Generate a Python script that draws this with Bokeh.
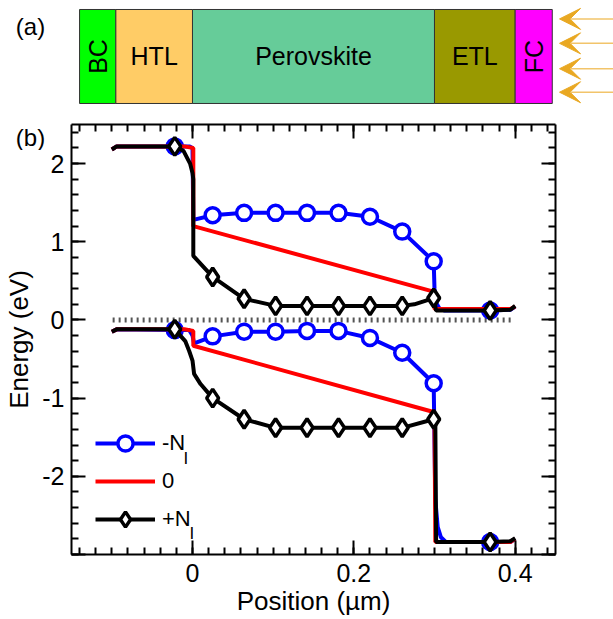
import numpy as np
from bokeh.plotting import figure
from bokeh.models import (Range1d, LinearAxis, SingleIntervalTicker, Legend, LegendItem,
                          Label, Arrow, VeeHead, ColumnDataSource, CustomJSTickFormatter)
from bokeh.layouts import column
from bokeh.core.properties import value
from bokeh.embed import file_html
from bokeh.resources import INLINE

FONT = "Liberation Sans"

# ---------------- panel (a): device stack ----------------
layer_names = ["BC", "HTL", "Perovskite", "ETL", "FC"]
layer_edges = [-0.140, -0.095, 0.000, 0.300, 0.400, 0.446]   # um
layer_colors = ["#00FF00", "#FFCC66", "#66CC99", "#999900", "#FF00FF"]
layer_text_angle = [np.pi / 2, 0, 0, 0, np.pi / 2]
light_arrow_y = [0.90, 0.64, 0.37, 0.12]

# ---------------- panel (b): band diagram ----------------
fermi_x = [-0.099, 0.396]
fermi_y = [0.0, 0.0]

# -N_I (blue)
neg_cb_x = [-0.100, -0.094, -0.022, -0.004, 0.000, 0.001, 0.025, 0.064, 0.103, 0.142, 0.181,
            0.220, 0.260, 0.299, 0.300, 0.302, 0.306, 0.312, 0.369, 0.394, 0.400]
neg_cb_y = [2.18, 2.22, 2.22, 2.22, 2.20, 1.28, 1.34, 1.37, 1.37, 1.37, 1.37,
            1.32, 1.13, 0.75, 0.40, 0.22, 0.15, 0.12, 0.12, 0.13, 0.17]
neg_vb_x = [-0.100, -0.094, -0.022, -0.004, 0.000, 0.002, 0.025, 0.064, 0.103, 0.142, 0.181,
            0.220, 0.260, 0.299, 0.301, 0.304, 0.308, 0.314, 0.369, 0.394, 0.400]
neg_vb_y = [-0.15, -0.12, -0.13, -0.13, -0.20, -0.30, -0.21, -0.15, -0.15, -0.14, -0.14,
            -0.23, -0.42, -0.81, -2.30, -2.65, -2.78, -2.84, -2.84, -2.84, -2.80]
neg_mk_x = [-0.022, 0.025, 0.064, 0.103, 0.142, 0.181, 0.220, 0.260, 0.299, 0.369]
neg_mk_cb = [2.22, 1.34, 1.37, 1.37, 1.37, 1.37, 1.32, 1.13, 0.75, 0.12]
neg_mk_vb = [-0.13, -0.21, -0.15, -0.15, -0.14, -0.14, -0.23, -0.42, -0.81, -2.84]

# 0 (red)
zero_cb_x = [-0.100, -0.094, -0.010, 0.001, 0.001, 0.300, 0.300, 0.394, 0.400]
zero_cb_y = [2.18, 2.22, 2.22, 2.20, 1.20, 0.36, 0.14, 0.14, 0.17]
zero_vb_x = [-0.100, -0.094, -0.010, 0.001, 0.001, 0.300, 0.301, 0.394, 0.400]
zero_vb_y = [-0.15, -0.12, -0.12, -0.14, -0.33, -1.18, -2.84, -2.84, -2.80]

# +N_I (black)
pos_cb_x = [-0.100, -0.094, -0.022, -0.011, -0.003, 0.000, 0.001, 0.001, 0.025, 0.064, 0.103,
            0.142, 0.181, 0.220, 0.260, 0.275, 0.299, 0.302, 0.369, 0.394, 0.400]
pos_cb_y = [2.18, 2.22, 2.22, 2.16, 2.00, 1.88, 1.80, 0.82, 0.55, 0.27, 0.18,
            0.18, 0.18, 0.18, 0.18, 0.20, 0.28, 0.12, 0.12, 0.13, 0.18]
pos_vb_x = [-0.100, -0.094, -0.022, -0.009, -0.004, 0.000, 0.002, 0.010, 0.025, 0.064, 0.103,
            0.142, 0.181, 0.220, 0.260, 0.299, 0.301, 0.302, 0.369, 0.394, 0.400]
pos_vb_y = [-0.15, -0.12, -0.12, -0.27, -0.40, -0.52, -0.69, -0.82, -1.00, -1.27, -1.38,
            -1.38, -1.38, -1.38, -1.38, -1.27, -1.27, -2.84, -2.84, -2.83, -2.79]
pos_mk_x = [-0.022, 0.025, 0.064, 0.103, 0.142, 0.181, 0.220, 0.260, 0.299, 0.369]
pos_mk_cb = [2.22, 0.55, 0.27, 0.18, 0.18, 0.18, 0.18, 0.18, 0.28, 0.12]
pos_mk_vb = [-0.12, -1.00, -1.27, -1.38, -1.38, -1.38, -1.38, -1.38, -1.27, -2.84]

x_ticks_interval = 0.2
y_ticks_interval = 1.0

OVERLAP = 40  # px by which panel (b) slides up under the bottom of panel (a)'s canvas

# ======================= panel (a) =======================
pa = figure(width=613, height=110 + OVERLAP, output_backend="svg", toolbar_location=None,
            x_range=Range1d(-0.2380, 0.5219), y_range=Range1d(-0.5, 1.0957),
            x_axis_type=None, y_axis_type=None, frame_align=False,
            min_border_left=0, min_border_right=0, min_border_top=0, min_border_bottom=0)
pa.outline_line_color = None
pa.xgrid.visible = False
pa.ygrid.visible = False

src_a = ColumnDataSource(dict(
    left=layer_edges[:-1], right=layer_edges[1:],
    xc=[(a + b) / 2 for a, b in zip(layer_edges[:-1], layer_edges[1:])],
    name=layer_names, color=layer_colors, ang=layer_text_angle))
pa.quad(left="left", right="right", bottom=0, top=1, fill_color="color",
        line_color="#333333", line_width=1, source=src_a)
pa.text(x="xc", y=0.5, text="name", angle="ang", source=src_a,
        text_font=value(FONT), text_font_size="25px", text_color="black",
        text_align="center", text_baseline="middle")

for yy in light_arrow_y:
    pa.add_layout(Arrow(x_start=0.53, y_start=yy, x_end=0.455, y_end=yy,
                        line_color="#F2C46A", line_width=1.5,
                        end=VeeHead(size=21, fill_color="#E9A822", line_color="#E9A822", line_width=1)))

pa.add_layout(Label(x=30, y=150 - 26, x_units="screen", y_units="screen", text="(a)",
                    text_font=FONT, text_font_size="24px", text_align="center",
                    text_baseline="middle", text_color="black"))
pa.add_layout(Label(x=30, y=150 - 137, x_units="screen", y_units="screen", text="(b)",
                    text_font=FONT, text_font_size="24px", text_align="center",
                    text_baseline="middle", text_color="black"))

# ======================= panel (b) =======================
p = figure(width=613, height=509, output_backend="svg", toolbar_location=None,
           x_range=Range1d(-0.15, 0.45), y_range=Range1d(-3.0, 2.5), frame_align=False,
           min_border_left=71, min_border_right=58, min_border_top=14, min_border_bottom=65)
p.margin = (-OVERLAP, 0, 0, 0)
p.border_fill_alpha = 0
p.xgrid.visible = False
p.ygrid.visible = False
p.outline_line_color = None

bottom_ax = p.below[0]
left_ax = p.left[0]
bottom_ax.ticker = SingleIntervalTicker(interval=x_ticks_interval, num_minor_ticks=10)
left_ax.ticker = SingleIntervalTicker(interval=y_ticks_interval, num_minor_ticks=5)
bottom_ax.formatter = CustomJSTickFormatter(code="return (Math.round(tick*10)/10).toString();")
left_ax.formatter = CustomJSTickFormatter(
    code="return tick < -2.5 ? '' : Math.round(tick).toString();")

top_ax = LinearAxis(ticker=SingleIntervalTicker(interval=x_ticks_interval, num_minor_ticks=10),
                    formatter=CustomJSTickFormatter(code="return '';"))
right_ax = LinearAxis(ticker=SingleIntervalTicker(interval=y_ticks_interval, num_minor_ticks=5),
                      formatter=CustomJSTickFormatter(code="return '';"))
p.add_layout(top_ax, "above")
p.add_layout(right_ax, "right")

for ax in [bottom_ax, left_ax, top_ax, right_ax]:
    ax.axis_line_width = 2
    ax.axis_line_color = "black"
    ax.major_tick_in = 14
    ax.major_tick_out = 0
    ax.minor_tick_in = 7
    ax.minor_tick_out = 0
    ax.major_tick_line_width = 2
    ax.minor_tick_line_width = 2
    ax.major_tick_line_color = "black"
    ax.minor_tick_line_color = "black"
    ax.major_label_text_font = FONT
    ax.major_label_text_font_size = "25px"
    ax.major_label_text_color = "black"
    ax.axis_label_text_font = FONT
    ax.axis_label_text_font_size = "26px"
    ax.axis_label_text_font_style = "normal"
    ax.axis_label_text_color = "black"

for ax in [top_ax, right_ax]:
    ax.major_label_standoff = 0

bottom_ax.axis_label = "Position (µm)"
left_ax.axis_label = "Energy (eV)"
bottom_ax.major_label_standoff = 9
bottom_ax.axis_label_standoff = 1
left_ax.major_label_standoff = 7
left_ax.axis_label_standoff = 5

# Fermi level
p.line(fermi_x, fermi_y, line_color="#555555", line_width=5, line_dash="2 4")

def join(x1, y1, x2, y2):
    return list(x1) + [np.nan] + list(x2), list(y1) + [np.nan] + list(y2)

nx, ny = join(neg_cb_x, neg_cb_y, neg_vb_x, neg_vb_y)
zx, zy = join(zero_cb_x, zero_cb_y, zero_vb_x, zero_vb_y)
px_, py_ = join(pos_cb_x, pos_cb_y, pos_vb_x, pos_vb_y)

blue_line = p.line(nx, ny, line_color="#0000FF", line_width=4)
blue_mk = p.scatter(neg_mk_x + neg_mk_x, neg_mk_cb + neg_mk_vb, marker="circle", size=15,
                    line_color="#0000FF", line_width=3.5, fill_color="white")
red_line = p.line(zx, zy, line_color="#FF0000", line_width=4)
black_line = p.line(px_, py_, line_color="black", line_width=4)
black_mk = p.scatter(pos_mk_x + pos_mk_x, pos_mk_cb + pos_mk_vb, marker="diamond", size=18,
                     line_color="black", line_width=3.5, fill_color="white")

legend = Legend(items=[LegendItem(label="-N", renderers=[blue_line, blue_mk]),
                       LegendItem(label="0", renderers=[red_line]),
                       LegendItem(label="+N", renderers=[black_line, black_mk])],
                location=(24, 16), orientation="vertical",
                glyph_width=60, glyph_height=38, label_height=38, spacing=0,
                padding=0, margin=0, label_standoff=7,
                label_text_font=FONT, label_text_font_size="22px", label_text_color="black",
                border_line_color=None, background_fill_alpha=0)
p.add_layout(legend)

for sx, sy in [(112, 96), (118, 21)]:
    p.add_layout(Label(x=sx, y=sy, x_units="screen", y_units="screen", text="I",
                       text_font=FONT, text_font_size="17px", text_color="black",
                       text_baseline="alphabetic", text_align="left"))

layout = column(pa, p, spacing=0)
open("out.html", "w").write(file_html(layout, INLINE))
